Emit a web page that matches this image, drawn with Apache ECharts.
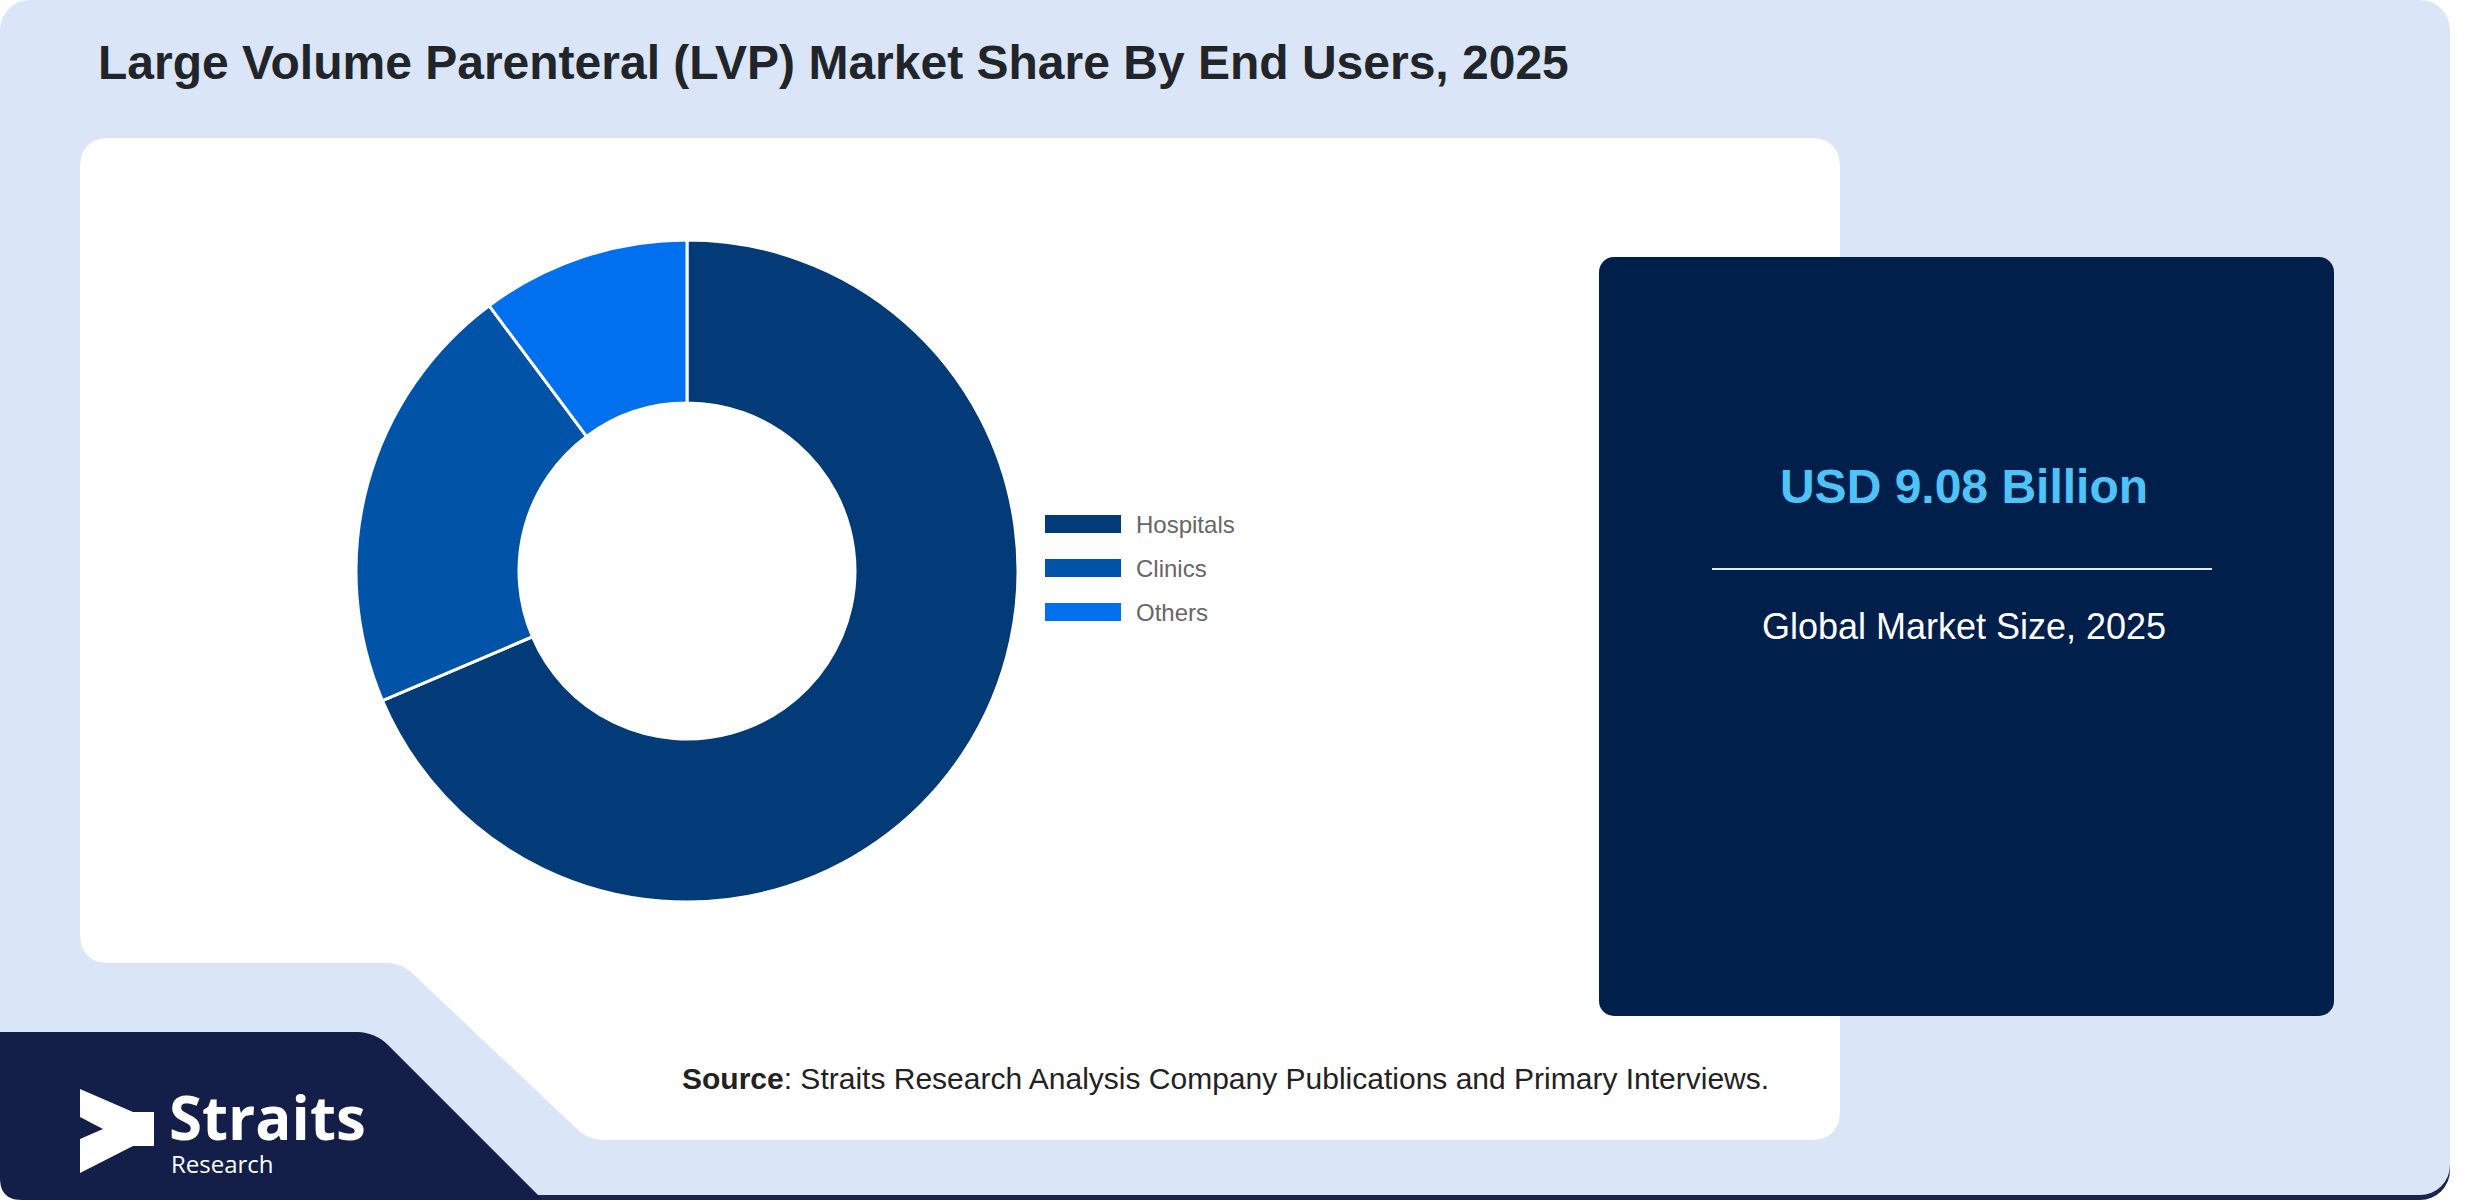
<!DOCTYPE html>
<html>
<head>
<meta charset="utf-8">
<script src="https://cdn.jsdelivr.net/npm/echarts@6/dist/echarts.min.js"></script>
<style>
html,body{margin:0;padding:0;background:#ffffff;}
#chart{width:2480px;height:1200px;}
</style>
</head>
<body>
<div id="chart"></div>
<script>
// ---- data ----
const titleText = 'Large Volume Parenteral (LVP) Market Share By End Users, 2025';
const categories = ['Hospitals', 'Clinics', 'Others'];
const shares = [68.6, 21.2, 10.2];
const marketValue = 'USD 9.08 Billion';
const marketLabel = 'Global Market Size, 2025';
const sourceLabel = 'Source';
const sourceText = ': Straits Research Analysis Company Publications and Primary Interviews.';
const brandName = 'Straits';
const brandSub = 'Research';

// ---- styles ----
const sliceColors = ['#023b77', '#0053a6', '#0070ef'];
const FONT = '"Liberation Sans", Arial, sans-serif';

// sample a simple path of line / quadratic segments into polygon points
function shapePoints(cmds) {
  const pts = [];
  let cx = 0, cy = 0;
  cmds.forEach(c => {
    if (c[0] === 'M' || c[0] === 'L') { cx = c[1]; cy = c[2]; pts.push([cx, cy]); }
    else if (c[0] === 'Q') {
      const x0 = cx, y0 = cy;
      for (let i = 1; i <= 12; i++) {
        const t = i / 12, u = 1 - t;
        pts.push([u*u*x0 + 2*u*t*c[1] + t*t*c[3], u*u*y0 + 2*u*t*c[2] + t*t*c[4]]);
      }
      cx = c[3]; cy = c[4];
    }
  });
  return pts;
}

const whitePanel = shapePoints([
  ['M',110,138],['L',1810,138],['Q',1840,138,1840,168],['L',1840,1110],['Q',1840,1140,1810,1140],
  ['L',605,1140],['Q',588,1140,577,1129],['L',412,973],['Q',402,963,385,963],['L',110,963],
  ['Q',80,963,80,933],['L',80,168],['Q',80,138,110,138]
]);
const navyShape = shapePoints([
  ['M',0,1032],['L',355,1032],['Q',375,1032,388,1045],['L',543,1200],['L',22,1200],['Q',0,1200,0,1178]
]);

const chart = echarts.init(document.getElementById('chart'), null, {renderer: 'svg', width: 2480, height: 1200});

const graphics = [
  {type: 'rect', z: 0, shape: {x: 0, y: 600, width: 2450, height: 600, r: 30}, style: {fill: '#1a2550'}},
  {type: 'rect', z: 0, shape: {x: 0, y: 0, width: 2450, height: 1195, r: 30}, style: {fill: '#dae6f8'}},
  {type: 'polygon', z: 0, shape: {points: whitePanel}, style: {fill: '#ffffff'}},
  {type: 'polygon', z: 0, shape: {points: navyShape}, style: {fill: '#131f48'}},
  {type: 'polygon', z: 1, shape: {points: [[80,1089],[133,1112],[154,1112],[154,1146],[133,1146],[80,1173],[80,1139],[103,1129],[80,1117]]}, style: {fill: '#ffffff'}},
  {type: 'text', z: 1, style: {x: 169, y: 1094, verticalAlign: 'top',
    text: '{a|' + brandName + '}\n{b|' + brandSub + '}',
    rich: {
      a: {fontFamily: '"Open Sans", sans-serif', fontWeight: 'bold', fontSize: 60, lineHeight: 46, fill: '#ffffff'},
      b: {fontFamily: '"Open Sans", sans-serif', fontSize: 24, lineHeight: 46, fill: '#ffffff', padding: [0, 0, 0, 2]}
    }}},
  {type: 'text', z: 1, style: {x: 98, y: 62, text: titleText, font: 'bold 48px ' + FONT, fill: '#212529', verticalAlign: 'middle'}},
  {type: 'text', z: 1, style: {x: 682, y: 1078, text: '{b|' + sourceLabel + '}' + sourceText, font: '30px ' + FONT, fill: '#222222', verticalAlign: 'middle',
    rich: {b: {fontWeight: 'bold', fontSize: 30, fontFamily: FONT, fill: '#222222'}}}},
  {type: 'rect', z: 0, shape: {x: 1599, y: 257, width: 735, height: 759, r: 15}, style: {fill: '#011f4b'}},
  {type: 'text', z: 1, style: {x: 1964, y: 486, text: marketValue, font: 'bold 48px ' + FONT, fill: '#4fc3f7', align: 'center', verticalAlign: 'middle'}},
  {type: 'line', z: 1, shape: {x1: 1712, y1: 569, x2: 2212, y2: 569}, style: {stroke: '#e6e9ef', lineWidth: 2}},
  {type: 'text', z: 1, style: {x: 1964, y: 626, text: marketLabel, font: '36px ' + FONT, fill: '#ffffff', align: 'center', verticalAlign: 'middle'}}
];

chart.setOption({
  animation: false,
  graphic: {elements: graphics},
  color: sliceColors,
  legend: {
    orient: 'vertical',
    left: 1038,
    top: 507,
    itemWidth: 78,
    itemHeight: 20,
    itemGap: 20,
    icon: 'rect',
    selectedMode: false,
    data: categories,
    textStyle: {fontSize: 24, lineHeight: 24, color: '#666666', fontFamily: FONT, padding: [0, 0, 0, 9]}
  },
  series: [{
    type: 'pie',
    z: 5,
    center: [687, 571],
    radius: [168, 331],
    startAngle: 90,
    clockwise: true,
    label: {show: false},
    labelLine: {show: false},
    emphasis: {disabled: true},
    itemStyle: {borderColor: '#ffffff', borderWidth: 3},
    data: categories.map((c, i) => ({name: c, value: shares[i]}))
  }]
});
</script>
</body>
</html>
